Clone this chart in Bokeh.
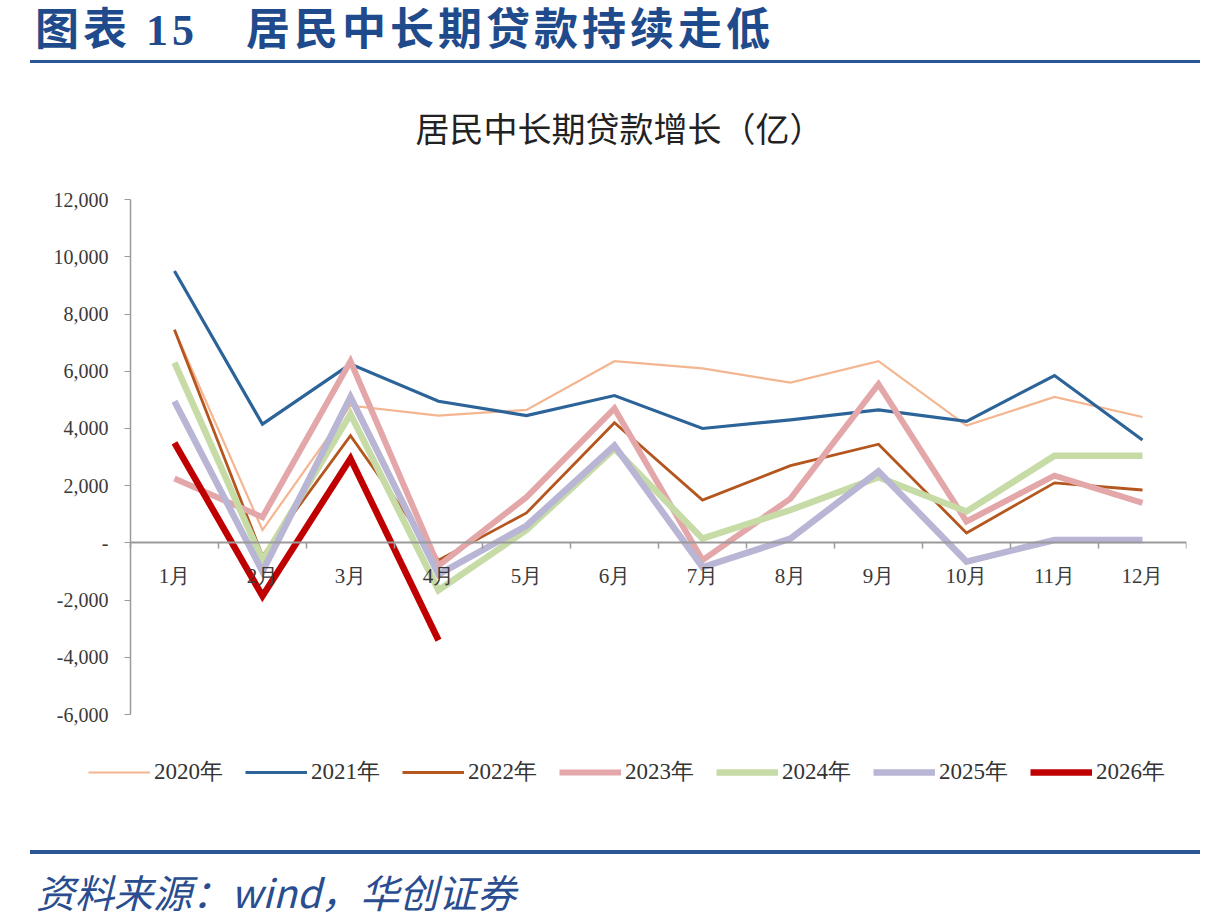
from bokeh.plotting import figure
from bokeh.models import FixedTicker, Legend, LegendItem, Div, Title, Range1d
from bokeh.layouts import column
from bokeh.embed import file_html
from bokeh.resources import INLINE

months = ["1月", "2月", "3月", "4月", "5月", "6月", "7月", "8月", "9月", "10月", "11月", "12月"]
years = ["2020年", "2021年", "2022年", "2023年", "2024年", "2025年", "2026年"]
y2020 = [7450, 450, 4800, 4450, 4650, 6350, 6100, 5600, 6350, 4100, 5100, 4400]
y2021 = [9500, 4150, 6250, 4950, 4450, 5150, 4000, 4300, 4650, 4250, 5850, 3600]
y2022 = [7450, -450, 3750, -600, 1050, 4200, 1500, 2700, 3450, 350, 2100, 1850]
y2023 = [2250, 900, 6350, -800, 1600, 4700, -600, 1550, 5550, 750, 2350, 1400]
y2024 = [6300, -600, 4500, -1650, 450, 3300, 150, 1150, 2300, 1100, 3050, 3050]
y2025 = [4950, -1000, 5100, -1100, 600, 3400, -850, 150, 2500, -650, 100, 100]
y2026 = [3500, -1850, 2950, -3400]
series = [y2020, y2021, y2022, y2023, y2024, y2025, y2026]

y_ticks = [12000, 10000, 8000, 6000, 4000, 2000, 0, -2000, -4000, -6000]
y_tick_labels = ["12,000", "10,000", "8,000", "6,000", "4,000", "2,000", "-", "-2,000", "-4,000", "-6,000"]

colors = ["#f4b690", "#2c6399", "#b4561e", "#e3a7aa", "#c6dba6", "#b9b5d5", "#c00000"]
widths = [2.2, 3.2, 2.8, 6, 6.5, 6.5, 6.5]

title_text = "图表 15\u2003居民中长期贷款持续走低"
chart_title = "居民中长期贷款增长（亿）"
source_text = "资料来源：wind，华创证券"

header = Div(
    text=(
        f'<div style="margin-left:35px;padding-top:6px;height:50px;line-height:50px;font-family:\'Liberation Serif\',\'Noto Sans CJK SC\';'
        f'font-weight:bold;font-size:44px;letter-spacing:4px;color:#1f4b8c;white-space:nowrap;">{title_text}</div>'
        '<div style="margin-left:30px;margin-top:10px;width:1170px;height:3px;background:#2c5596;"></div>'
    ),
    width=1201, height=72, margin=(0, 0, 0, 0),
)

p = figure(
    width=1201, height=778, output_backend="svg", toolbar_location=None,
    x_range=Range1d(-0.636, 12.5), y_range=Range1d(-9000, 12700),
    min_border_left=30, min_border_right=15, min_border_top=107, min_border_bottom=50,
)
p.outline_line_color = None
p.xgrid.visible = False
p.ygrid.visible = False
p.background_fill_color = "white"
p.border_fill_color = "white"

p.title = Title(text=chart_title, align="left", offset=385, standoff=55, text_font="Noto Sans CJK SC",
                text_font_size="34px", text_font_style="normal", text_color="#222222")

renderers = []
for i, ys in enumerate(series):
    xs = list(range(1, len(ys) + 1))
    r = p.line(xs, ys, line_color=colors[i], line_width=widths[i], line_join="miter")
    renderers.append(r)

items = [LegendItem(label=years[i], renderers=[renderers[i]]) for i in range(len(years))]
legend = Legend(items=items, orientation="horizontal", location=(58, 13),
                glyph_width=62, glyph_height=20, label_standoff=4, spacing=22,
                label_text_font="Liberation Serif", label_text_font_size="23px",
                label_text_color="#333333", border_line_alpha=0, background_fill_alpha=0,
                padding=0, margin=0)
p.add_layout(legend)

xa = p.xaxis[0]
xa.fixed_location = 0
xa.bounds = (0.5, 12.5)
xa.ticker = FixedTicker(ticks=list(range(1, 13)), minor_ticks=[k + 0.5 for k in range(0, 13)])
xa.major_label_overrides = {k + 1: months[k] for k in range(12)}
xa.axis_line_color = "#9a9a9a"
xa.axis_line_width = 2
xa.major_tick_out = 0
xa.major_tick_in = 0
xa.minor_tick_out = 6
xa.minor_tick_in = 0
xa.minor_tick_line_color = "#9a9a9a"
xa.minor_tick_line_width = 1.5
xa.major_label_standoff = 15
xa.major_label_text_font = "Liberation Serif"
xa.major_label_text_font_size = "21px"
xa.major_label_text_color = "#3a3a3a"

ya = p.yaxis[0]
ya.fixed_location = 0.5
ya.bounds = (-6000, 12000)
ya.ticker = FixedTicker(ticks=y_ticks)
ya.major_label_overrides = {y_ticks[k]: y_tick_labels[k] for k in range(len(y_ticks))}
ya.axis_line_color = "#9a9a9a"
ya.axis_line_width = 1.5
ya.major_tick_out = 6
ya.major_tick_in = 0
ya.major_tick_line_color = "#9a9a9a"
ya.minor_tick_out = 0
ya.minor_tick_in = 0
ya.major_label_standoff = 16
ya.major_label_text_font = "Liberation Serif"
ya.major_label_text_font_size = "20px"
ya.major_label_text_color = "#3a3a3a"

footer = Div(
    text=(
        '<div style="margin-left:30px;margin-top:0px;width:1170px;height:4px;background:#2c5596;"></div>'
        f'<div style="margin-left:36px;margin-top:14px;font-family:\'Noto Sans CJK SC\';font-style:italic;'
        f'font-size:39px;line-height:46px;color:#2a4d8f;white-space:nowrap;">{source_text}</div>'
    ),
    width=1201, height=68, margin=(0, 0, 0, 0),
)

layout = column(header, p, footer, spacing=0)
open("out.html", "w").write(file_html(layout, INLINE))
